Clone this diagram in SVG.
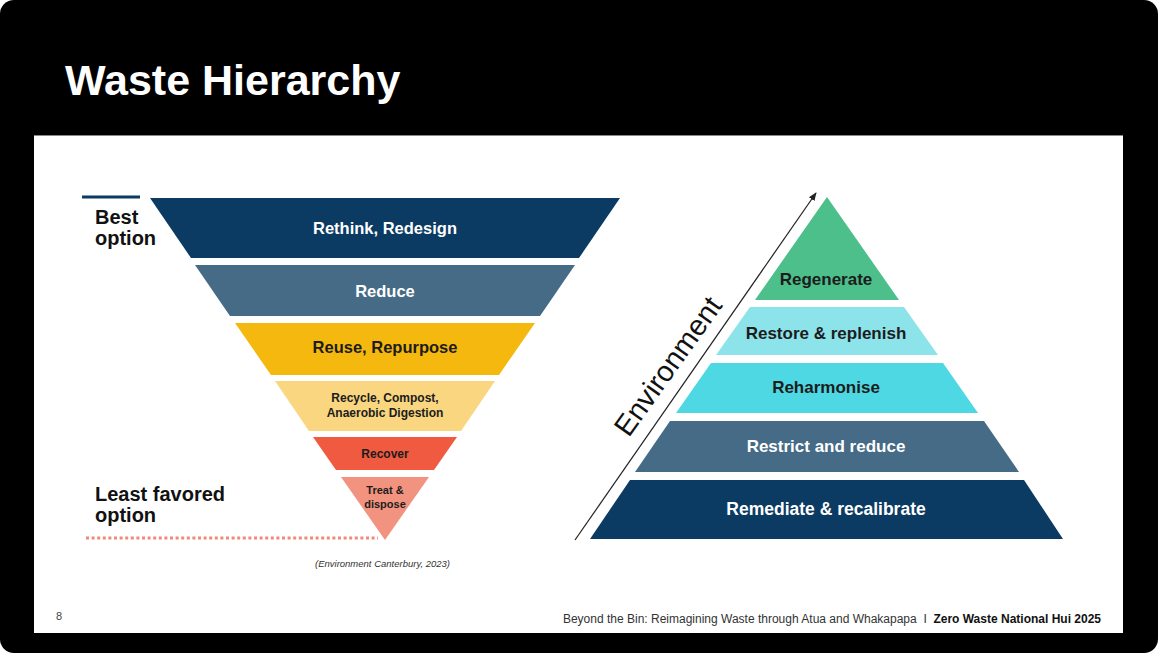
<svg xmlns="http://www.w3.org/2000/svg" width="1158" height="653" viewBox="0 0 1158 653">
<defs>
<style>
text{font-family:"Liberation Sans",Arial,sans-serif}
.lbl{font-weight:bold;text-anchor:middle}
.w{fill:#ffffff}
.d{fill:#1c1c1c}
.side{font-weight:bold;font-size:20px;fill:#111}
</style>
<marker id="ah" viewBox="0 0 10 10" refX="9" refY="5" markerWidth="7" markerHeight="7" orient="auto">
<path d="M0,1 L10,5 L0,9 z" fill="#222"/>
</marker>
</defs>
<rect x="0" y="0" width="1158" height="653" fill="#ffffff"/>
<rect x="0" y="0" width="1158" height="653" rx="14" fill="#000000"/>
<rect x="34" y="135" width="1089" height="498" fill="#ffffff"/>
<line x1="34" y1="135.5" x2="1123" y2="135.5" stroke="#888" stroke-width="1"/>
<text x="65" y="95" font-size="43" font-weight="bold" fill="#ffffff">Waste Hierarchy</text>

<g id="labels-left">
<line x1="82" y1="197" x2="140" y2="197" stroke="#0b3a63" stroke-width="3"/>
<text class="side" x="95" y="224">Best</text>
<text class="side" x="95" y="245">option</text>
<text class="side" x="95" y="501">Least favored</text>
<text class="side" x="95" y="522">option</text>
<line x1="86" y1="538" x2="378" y2="538" stroke="#f08a78" stroke-width="3" stroke-dasharray="3 2.6"/>
</g>

<g id="funnel-rethink">
<polygon points="150,198 620,198 579,258 191,258" fill="#0b3a63"/>
<text class="lbl w" x="385" y="234" font-size="16.5">Rethink, Redesign</text>
</g>
<g id="funnel-reduce">
<polygon points="195,265 575,265 540,316 230,316" fill="#466b87"/>
<text class="lbl w" x="385" y="297" font-size="16.5">Reduce</text>
</g>
<g id="funnel-reuse">
<polygon points="235,323 535,323 499,375 271,375" fill="#f5b80e"/>
<text class="lbl d" x="385" y="353" font-size="16.5">Reuse, Repurpose</text>
</g>
<g id="funnel-recycle">
<polygon points="275,381 495,381 461,431 309,431" fill="#f9d67f"/>
<text class="lbl d" x="385" y="402" font-size="12">Recycle, Compost,</text>
<text class="lbl d" x="385" y="417" font-size="12">Anaerobic Digestion</text>
</g>
<g id="funnel-recover">
<polygon points="313,437 457,437 434,470 336,470" fill="#ef5a40"/>
<text class="lbl d" x="385" y="458" font-size="12">Recover</text>
</g>
<g id="funnel-treat">
<polygon points="341,477 429,477 385,540" fill="#f2937f"/>
<text class="lbl d" x="385" y="494" font-size="11">Treat &amp;</text>
<text class="lbl d" x="385" y="508" font-size="11">dispose</text>
</g>
<text x="382.5" y="567" font-size="9.5" font-style="italic" text-anchor="middle" fill="#333">(Environment Canterbury, 2023)</text>

<g id="connectors">
<line x1="575" y1="540" x2="816" y2="193" stroke="#222" stroke-width="1.2" marker-end="url(#ah)"/>
</g>
<text x="676" y="372" font-size="29" fill="#111" text-anchor="middle" transform="rotate(-54.5 676 372)">Environment</text>

<g id="pyr-regenerate">
<polygon points="827,197 899,300 755,300" fill="#4dbf8a"/>
<text class="lbl d" x="826" y="285" font-size="17">Regenerate</text>
</g>
<g id="pyr-restore">
<polygon points="750,307 904,307 938,355 716,355" fill="#8de3ea"/>
<text class="lbl d" x="826" y="339" font-size="17">Restore &amp; replenish</text>
</g>
<g id="pyr-reharmonise">
<polygon points="711,363 943,363 978,413 676,413" fill="#4dd8e3"/>
<text class="lbl d" x="826" y="393" font-size="17">Reharmonise</text>
</g>
<g id="pyr-restrict">
<polygon points="670,421 984,421 1019,472 635,472" fill="#466b87"/>
<text class="lbl w" x="826" y="452" font-size="17">Restrict and reduce</text>
</g>
<g id="pyr-remediate">
<polygon points="630,480 1024,480 1063,539 590,539" fill="#0b3a63"/>
<text class="lbl w" x="826" y="515" font-size="17.5">Remediate &amp; recalibrate</text>
</g>

<text x="56" y="620" font-size="11" fill="#444">8</text>
<text x="1101" y="623" font-size="12" text-anchor="end" fill="#333" xml:space="preserve">Beyond the Bin: Reimagining Waste through Atua and Whakapapa  I  <tspan font-weight="bold" fill="#111">Zero Waste National Hui 2025</tspan></text>
</svg>
